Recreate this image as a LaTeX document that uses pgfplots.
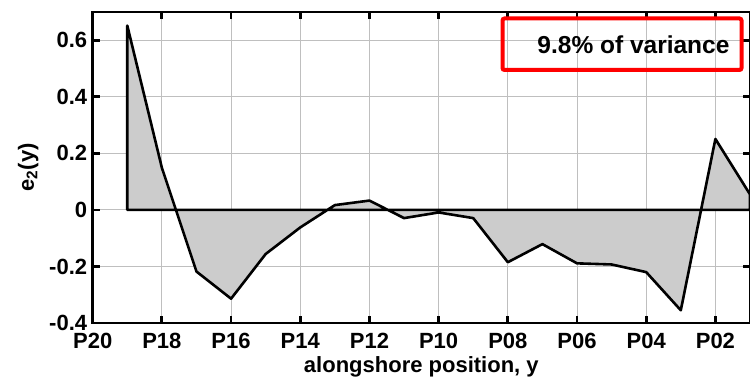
\documentclass[border=0pt]{standalone}
\usepackage{fontspec}
\setmainfont{Liberation Sans}
\usepackage{pgfplots}
\pgfplotsset{compat=1.18}
\begin{document}
\begin{tikzpicture}
\begin{axis}[
 scale only axis, width=657.3pt, height=311pt,
 xmin=1, xmax=20, x dir=reverse, ymin=-0.4, ymax=0.7,
 xtick={2,4,...,20}, xticklabels={P02,P04,P06,P08,P10,P12,P14,P16,P18,P20},
 ytick={-0.4,-0.2,0,0.2,0.4,0.6}, yticklabels={-0.4,-0.2,0,0.2,0.4,0.6},
 tick align=inside, major tick length=7pt,
 grid=major, grid style={line width=1pt, color=black!25},
 axis line style={line width=2.8pt},
 every tick/.style={line width=2.8pt, black},
 tick label style={font=\fontsize{22}{26}\selectfont\bfseries},
 xticklabel style={yshift=-7pt},
 yticklabel style={xshift=-2pt},
 xlabel={alongshore position, y}, ylabel={e\textsubscript{2}(y)},
 label style={font=\fontsize{22}{26}\selectfont\bfseries},
 xlabel style={yshift=-1pt},
 ylabel style={yshift=4pt},
 clip=false,
]
\addplot[fill=black!20, draw=black, line width=2.6pt, line join=round] coordinates {
 (19,0) (19,0.652) (18,0.149) (17,-0.218) (16,-0.314) (15,-0.156) (14,-0.062)
 (13,0.017) (12,0.033) (11,-0.029) (10,-0.009) (9,-0.029) (8,-0.185) (7,-0.121)
 (6,-0.189) (5,-0.193) (4,-0.220) (3,-0.355) (2,0.251) (1,0.055) (1,0)
} -- cycle;
\coordinate (bl) at (rel axis cs:0,0);
\coordinate (tr) at (rel axis cs:1,1);
\end{axis}
\draw[red, line width=4pt, rounded corners=2pt] ([shift={(409.8pt,-6.5pt)}]bl |- tr) rectangle ([shift={(-8.5pt,-58pt)}]tr);
\node[font=\fontsize{24.5}{29}\selectfont\bfseries, anchor=east] at ([shift={(-17pt,-33pt)}]tr) {9.8\% of variance};
\pgfresetboundingbox
\path ([shift={(-92.7pt,-55pt)}]bl) rectangle ([shift={(0pt,12pt)}]tr);
\end{tikzpicture}
\end{document}
